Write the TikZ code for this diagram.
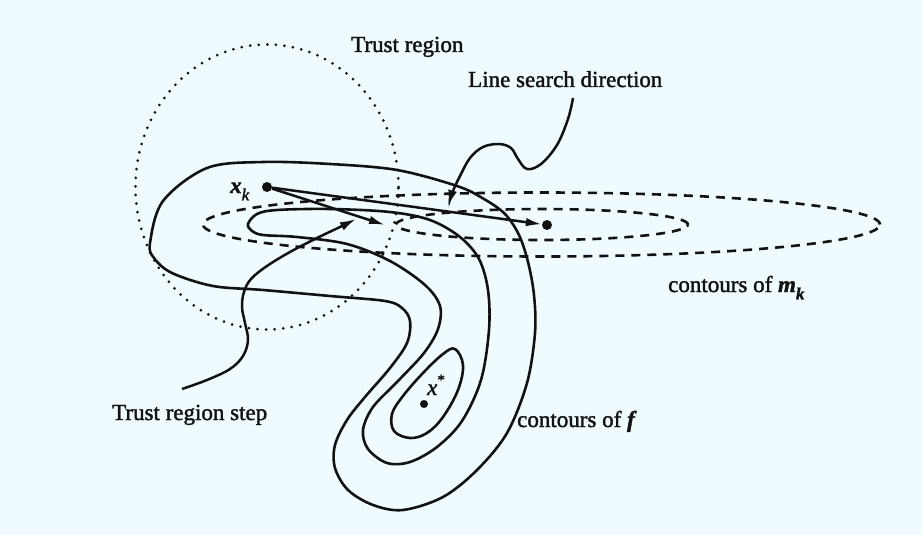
\documentclass[tikz,border=0pt]{standalone}
\usepackage{fontspec}
\setmainfont{Liberation Serif}[FakeBold=1.6]
\usetikzlibrary{arrows.meta}
\definecolor{bg}{HTML}{EFFBFE}
\definecolor{ink}{HTML}{121212}
\newcommand\subk{\raisebox{-0.32em}{\fontsize{17}{17}\selectfont\textit{k}}}
\newcommand\subkb{\raisebox{-0.32em}{\fontsize{17}{17}\selectfont\textbf{\textit{k}}}}
\begin{document}
\begin{tikzpicture}[x=1pt,y=-1pt,
  lbl/.style={inner sep=0pt, text=ink, font=\fontsize{23}{27}\selectfont},
  contour/.style={draw=ink, line width=2.6pt},
  mcontour/.style={draw=ink, line width=2.6pt, dash pattern=on 9pt off 7pt},
  trcirc/.style={draw=ink, line width=3pt, dash pattern=on 0pt off 8.6pt, line cap=round},
  arr/.style={draw=ink, line width=2.5pt, -{Latex[length=16pt,width=8.5pt]}},
  ptr/.style={draw=ink, line width=2.5pt, -{Latex[length=16pt,width=9pt]}},
  dotnode/.style={circle, fill=ink, inner sep=0pt, minimum size=#1},
]
\useasboundingbox (0,0) rectangle (922,535);
\fill[bg] (0,0) rectangle (922,535);

% points
\node[dotnode=10pt] (xk) at (267,187) {};
\node[dotnode=10pt] (mk) at (547,225) {};
\node[dotnode=8pt] (xs) at (424,404) {};
\coordinate (trs) at (385,225);

% trust region
\draw[trcirc] (xk) ellipse [x radius=131.5pt, y radius=142.5pt];

% model contours
\draw[mcontour] (542,224.5) ellipse [x radius=146pt, y radius=15.5pt];
\draw[mcontour] (541.5,224.5) ellipse [x radius=338.5pt, y radius=32pt];

% contours of f
\draw[contour] plot[smooth cycle, tension=0.55] coordinates {
 (150,243) (163,201) (207,168) (263,162) (330,164) (397,170) (457,186)
 (484,199) (505,214) (519,235) (528,262) (534,295) (535,333) (527,383)
 (507,433) (477,470) (443,497) (403,510) (373,505) (348,490) (335,468)
 (335,445) (347,420) (365,397) (390,368) (407,343) (410,321) (402,308)
 (385,301) (330,296) (263,290) (213,286) (172,273) (154,258)};
\draw[contour] plot[smooth cycle, tension=0.55] coordinates {
 (248,224) (257,214) (277,210) (330,209) (390,212) (430,220) (460,237)
 (479,259) (488,290) (489,330) (481,380) (462,421) (437,447) (410,462)
 (387,463) (368,449) (363,430) (373,407) (398,381) (424,353) (438,329)
 (440,306) (425,285) (390,261) (347,244) (297,237) (263,235) (252,231)};
\draw[contour] plot[smooth cycle, tension=0.6] coordinates {
 (455,349) (463,365) (458,390) (443,417) (427,433) (410,438) (394,431)
 (392,414) (403,396) (423,373) (443,354)};

% steps
\draw[arr] (xk) -- (mk);
\draw[arr] (xk) -- (trs);

% labels
\node[lbl, anchor=base west] (trlbl) at (351,52) {Trust region};
\node[lbl, anchor=base west] (lslbl) at (468,87) {Line search direction};
\node[lbl, anchor=base west] (mklbl) at (668,292) {contours of \textbf{\textit{m}}\subkb};
\node[lbl, anchor=base west] (tslbl) at (112,420) {Trust region step};
\node[lbl, anchor=base west] (flbl) at (517,427) {contours of \textbf{\textit{f}}};
\node[lbl, anchor=base west] (xklbl) at (230,193) {\textbf{\textit{x}}\subk};
\node[lbl, anchor=base west] (xslbl) at (427,395) {\textit{x}\raisebox{0.45em}{\fontsize{15}{15}\selectfont *}};

% pointers
\coordinate (tsA) at (182,389);
\coordinate (tsB) at (356,219);
\draw[ptr] plot[smooth, tension=0.6] coordinates {
 (tsA) (207,380) (230,369) (243,356) (248,340) (245,323) (242,307)
 (244,292) (251,279) (267,266) (290,252) (317,238) (340,227) (tsB)};
\coordinate (lsA) at (573,98);
\coordinate (lsB) at (448,206);
\draw[ptr] plot[smooth, tension=0.6] coordinates {
 (lsA) (568,119) (557,145) (541,164) (527,169) (518,159) (511,148)
 (499,144) (483,147) (470,158) (460,176) (453,191) (lsB)};
\end{tikzpicture}
\end{document}
